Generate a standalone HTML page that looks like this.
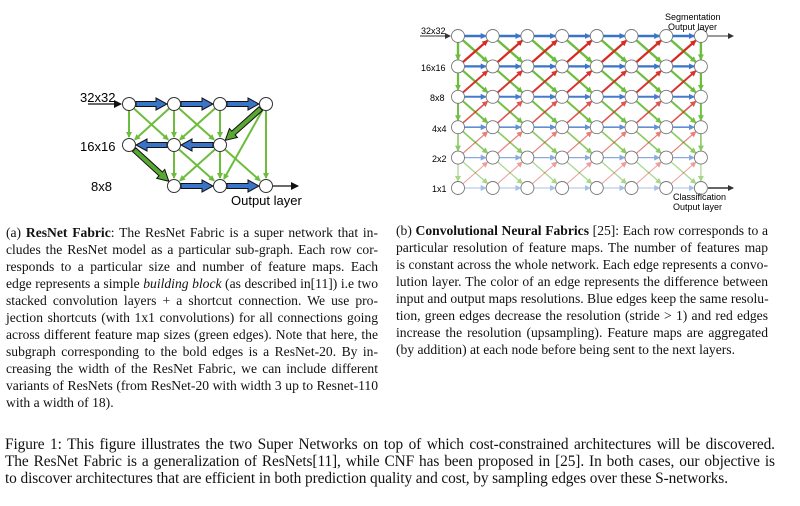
<!DOCTYPE html>
<html><head><meta charset="utf-8"><style>
body{margin:0;width:800px;height:506px;background:#fff;overflow:hidden;position:relative;font-family:"Liberation Serif",serif;color:#111}
.ln{position:absolute;font-size:13.6px;line-height:17px;white-space:nowrap;text-align:justify;text-align-last:justify}
.ln.last{text-align-last:left}
.fc{position:absolute;left:5px;font-size:16px;line-height:17px;white-space:nowrap;transform:scaleX(0.96);transform-origin:left top;width:802px;text-align:justify;text-align-last:justify;letter-spacing:-0.1px}
.fc.last{text-align-last:left}
svg text{font-family:"Liberation Sans",sans-serif}
</style></head><body>
<svg id="left" width="400" height="215" style="position:absolute;left:0;top:0">
<defs>
<marker id="ag" markerWidth="6" markerHeight="6" refX="5" refY="3" orient="auto" markerUnits="userSpaceOnUse"><path d="M0,0 L6,3 L0,6z" fill="#6cbd3c"/></marker>
<marker id="ak" markerWidth="8" markerHeight="8" refX="7" refY="4" orient="auto" markerUnits="userSpaceOnUse"><path d="M0,0 L8,4 L0,8z" fill="#111"/></marker>
</defs>
<g id="lg"></g>
<text x="80" y="102" font-size="13">32x32</text>
<text x="80" y="151" font-size="13">16x16</text>
<text x="91" y="191" font-size="13">8x8</text>
<text x="231" y="205" font-size="13">Output layer</text>
</svg>
<svg id="right" width="400" height="215" style="position:absolute;left:400px;top:0">
<defs>
<marker id="mb" markerWidth="6" markerHeight="6" refX="5" refY="3" orient="auto" markerUnits="userSpaceOnUse"><path d="M0,0 L6,3 L0,6z" fill="#3a74c9"/></marker>
<marker id="mg" markerWidth="6" markerHeight="6" refX="5" refY="3" orient="auto" markerUnits="userSpaceOnUse"><path d="M0,0 L6,3 L0,6z" fill="#6cbd3c"/></marker>
<marker id="mr" markerWidth="6" markerHeight="6" refX="5" refY="3" orient="auto" markerUnits="userSpaceOnUse"><path d="M0,0 L6,3 L0,6z" fill="#d62a22"/></marker>
<marker id="mk" markerWidth="6" markerHeight="6" refX="5" refY="3" orient="auto" markerUnits="userSpaceOnUse"><path d="M0,0 L6,3 L0,6z" fill="#333"/></marker>
</defs>
<g id="rg"></g>
<text x="21" y="34" font-size="9">32x32</text>
<text x="21" y="71" font-size="9">16x16</text>
<text x="30" y="101" font-size="9">8x8</text>
<text x="32" y="132" font-size="9">4x4</text>
<text x="32" y="162" font-size="9">2x2</text>
<text x="32" y="192" font-size="9">1x1</text>
<text x="265" y="20" font-size="9">Segmentation</text>
<text x="268" y="30" font-size="9">Output layer</text>
<text x="273" y="200" font-size="9">Classification</text>
<text x="273" y="210" font-size="9">Output layer</text>
</svg>

<div>
<div class="ln" style="left:6px;top:224px;width:372px">(a) <b>ResNet Fabric</b>: The ResNet Fabric is a super network that in-</div>
<div class="ln" style="left:6px;top:241px;width:372px">cludes the ResNet model as a particular sub-graph. Each row cor-</div>
<div class="ln" style="left:6px;top:258px;width:372px">responds to a particular size and number of feature maps. Each</div>
<div class="ln" style="left:6px;top:275px;width:372px">edge represents a simple <i>building block</i> (as described in[11]) i.e two</div>
<div class="ln" style="left:6px;top:292px;width:372px">stacked convolution layers + a shortcut connection. We use pro-</div>
<div class="ln" style="left:6px;top:309px;width:372px">jection shortcuts (with 1x1 convolutions) for all connections going</div>
<div class="ln" style="left:6px;top:326px;width:372px">across different feature map sizes (green edges). Note that here, the</div>
<div class="ln" style="left:6px;top:343px;width:372px">subgraph corresponding to the bold edges is a ResNet-20. By in-</div>
<div class="ln" style="left:6px;top:360px;width:372px">creasing the width of the ResNet Fabric, we can include different</div>
<div class="ln" style="left:6px;top:377px;width:372px">variants of ResNets (from ResNet-20 with width 3 up to Resnet-110</div>
<div class="ln last" style="left:6px;top:394px;width:372px">with a width of 18).</div>
</div>
<div>
<div class="ln" style="left:396px;top:222px;width:372px">(b) <b>Convolutional Neural Fabrics</b> [25]: Each row corresponds to a</div>
<div class="ln" style="left:396px;top:239px;width:372px">particular resolution of feature maps. The number of features map</div>
<div class="ln" style="left:396px;top:256px;width:372px">is constant across the whole network. Each edge represents a convo-</div>
<div class="ln" style="left:396px;top:273px;width:372px">lution layer. The color of an edge represents the difference between</div>
<div class="ln" style="left:396px;top:290px;width:372px">input and output maps resolutions. Blue edges keep the same resolu-</div>
<div class="ln" style="left:396px;top:307px;width:372px">tion, green edges decrease the resolution (stride &gt; 1) and red edges</div>
<div class="ln" style="left:396px;top:324px;width:372px">increase the resolution (upsampling). Feature maps are aggregated</div>
<div class="ln last" style="left:396px;top:341px;width:372px">(by addition) at each node before being sent to the next layers.</div>
</div>
<div>
<div class="fc" style="top:436px">Figure 1: This figure illustrates the two Super Networks on top of which cost-constrained architectures will be discovered.</div>
<div class="fc" style="top:453px">The ResNet Fabric is a generalization of ResNets[11], while CNF has been proposed in [25]. In both cases, our objective is</div>
<div class="fc last" style="top:470px">to discover architectures that are efficient in both prediction quality and cost, by sampling edges over these S-networks.</div>
</div>

<script>
const NS='http://www.w3.org/2000/svg';
function mk(tag,attrs,parent){const e=document.createElementNS(NS,tag);for(const k in attrs)e.setAttribute(k,attrs[k]);parent.appendChild(e);return e;}
function shorten(x1,y1,x2,y2,a,b){const dx=x2-x1,dy=y2-y1,l=Math.hypot(dx,dy);return [x1+dx/l*a,y1+dy/l*a,x2-dx/l*b,y2-dy/l*b];}
const lg=document.getElementById('lg');
const lx=[129,174,220,266], ly=[104,145,186];
const rowsCols=[[0,1,2,3],[0,1,2],[1,2,3]];
function lnode(c,r){return [lx[c],ly[r]];}
const thin=[];
rowsCols[0].forEach(c=>{[c-1,c,c+1].forEach(d=>{if(rowsCols[1].includes(d))thin.push([c,0,d,1]);});});
rowsCols[1].forEach(c=>{[c-1,c,c+1].forEach(d=>{if(rowsCols[2].includes(d))thin.push([c,1,d,2]);});});
thin.push([3,0,3,2]);thin.push([3,0,2,2]);
thin.forEach(t=>{const [a,b]=lnode(t[0],t[1]),[c,d]=lnode(t[2],t[3]);const s=shorten(a,b,c,d,7,8);
const e=mk('line',{x1:s[0],y1:s[1],x2:s[2],y2:s[3],stroke:'#6cbd3c','stroke-width':2,'marker-end':'url(#ag)'},lg);

});
function bold(x1,y1,x2,y2,fill,name){const dx=x2-x1,dy=y2-y1,l=Math.hypot(dx,dy),ux=dx/l,uy=dy/l,px=-uy,py=ux;
const h=11,w=2.5,W=6;const bx=x2-ux*h,by=y2-uy*h;
const pts=[[x1+px*w,y1+py*w],[bx+px*w,by+py*w],[bx+px*W,by+py*W],[x2,y2],[bx-px*W,by-py*W],[bx-px*w,by-py*w],[x1-px*w,y1-py*w]];
const e=mk('polygon',{points:pts.map(p=>p.join(',')).join(' '),fill:fill,stroke:'#111','stroke-width':1},lg);

}
const boldB=[[0,0,1,0],[1,0,2,0],[2,0,3,0],[2,1,1,1],[1,1,0,1],[1,2,2,2],[2,2,3,2]];
boldB.forEach(t=>{const [a,b]=lnode(t[0],t[1]),[c,d]=lnode(t[2],t[3]);const s=shorten(a,b,c,d,7,7);bold(s[0],s[1],s[2],s[3],'#3a74c9','bold-blue-edge');});
[[3,0,2,1],[0,1,1,2]].forEach(t=>{const [a,b]=lnode(t[0],t[1]),[c,d]=lnode(t[2],t[3]);const s=shorten(a,b,c,d,7,7);bold(s[0],s[1],s[2],s[3],'#58a832','bold-green-edge');});
rowsCols.forEach((cols,r)=>cols.forEach(c=>{const e=mk('circle',{cx:lx[c],cy:ly[r],r:6.5,fill:'#fff',stroke:'#333','stroke-width':1},lg);

}));
let a1=mk('line',{x1:88,y1:104,x2:121,y2:104,stroke:'#111','stroke-width':1.2,'marker-end':'url(#ak)'},lg);


let a2=mk('line',{x1:273,y1:186,x2:298,y2:186,stroke:'#111','stroke-width':1.2,'marker-end':'url(#ak)'},lg);


const rg=document.getElementById('rg');
const NC=8,NR=6;
function rx(c){return 58+c*34.7;} function ry(r){return 36+r*30.4;}
const widths=[2.4,2.2,2,1.6,1.2,1];
const fade=[1,1,0.95,0.8,0.6,0.45];
function redge(c1,r1,c2,r2,col,m,wr,name){const s=shorten(rx(c1),ry(r1),rx(c2),ry(r2),6.5,7);
const e=mk('line',{x1:s[0],y1:s[1],x2:s[2],y2:s[3],stroke:col,'stroke-width':widths[wr],opacity:fade[wr],'marker-end':'url(#'+m+')'},rg);

}
for(let c=0;c<NC-1;c++)for(let r=0;r<NR;r++){
 redge(c,r,c+1,r,'#3a74c9','mb',r,'blue-edge');
 if(r<NR-1)redge(c,r,c+1,r+1,'#6cbd3c','mg',r,'green-edge');
 if(r>0)redge(c,r,c+1,r-1,'#d62a22','mr',r,'red-edge');}
[0,NC-1].forEach(c=>{for(let r=0;r<NR-1;r++)redge(c,r,c,r+1,'#6cbd3c','mg',r,'green-vertical-edge');});
for(let c=0;c<NC;c++)for(let r=0;r<NR;r++){const e=mk('circle',{cx:rx(c),cy:ry(r),r:6.5,fill:'#fff',stroke:'#777','stroke-width':0.9},rg);

}
let b1=mk('line',{x1:20,y1:36,x2:50,y2:36,stroke:'#333','stroke-width':1,'marker-end':'url(#mk)'},rg);


let b2=mk('line',{x1:308,y1:36,x2:333,y2:36,stroke:'#333','stroke-width':1,'marker-end':'url(#mk)'},rg);


let b3=mk('line',{x1:308,y1:188,x2:333,y2:188,stroke:'#333','stroke-width':1.4,'marker-end':'url(#mk)'},rg);


</script>
</body></html>
